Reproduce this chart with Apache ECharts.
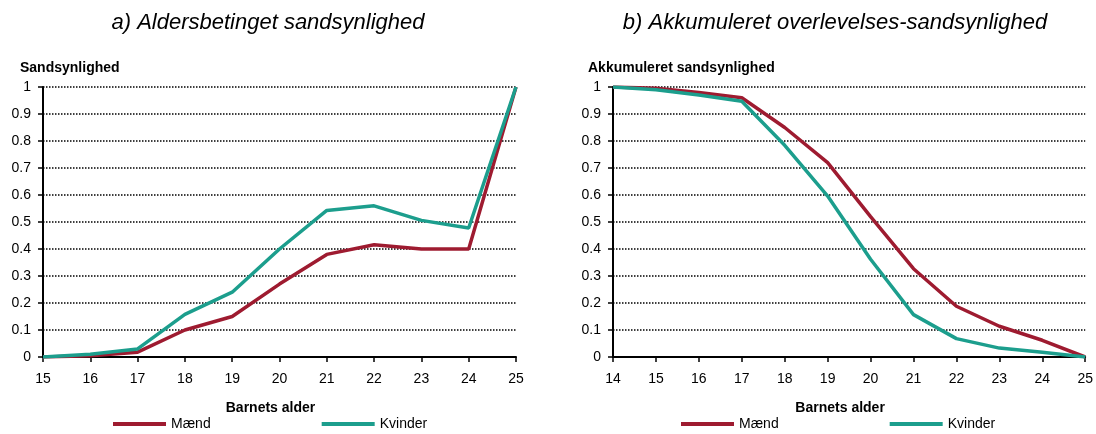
<!DOCTYPE html>
<html>
<head>
<meta charset="utf-8">
<script src="https://cdn.jsdelivr.net/npm/echarts@6/dist/echarts.min.js"></script>
<style>
  html, body { margin: 0; padding: 0; background: #fff; }
  #chart { width: 1096px; height: 434px; }
</style>
</head>
<body>
<div id="chart"></div>
<script>
// a) Aldersbetinget sandsynlighed
var alderA = ['15', '16', '17', '18', '19', '20', '21', '22', '23', '24', '25'];
var maendA = [0, 0.005, 0.018, 0.10, 0.15, 0.27, 0.38, 0.416, 0.40, 0.40, 1.0];
var kvinderA = [0, 0.01, 0.03, 0.158, 0.24, 0.40, 0.543, 0.56, 0.506, 0.478, 1.0];

// b) Akkumuleret overlevelses-sandsynlighed
var alderB = ['14', '15', '16', '17', '18', '19', '20', '21', '22', '23', '24', '25'];
var maendB = [1.0, 0.995, 0.98, 0.96, 0.85, 0.72, 0.52, 0.327, 0.188, 0.114, 0.062, 0];
var kvinderB = [1.0, 0.99, 0.97, 0.947, 0.784, 0.596, 0.362, 0.157, 0.068, 0.033, 0.018, 0];

var rod = '#9E1B30';
var groen = '#1C9E8D';
var font = 'Liberation Sans, Arial, sans-serif';

var myChart = echarts.init(document.getElementById('chart'));

function xAkse(idx, data) {
    return {
        type: 'category',
        gridIndex: idx,
        data: data,
        boundaryGap: false,
        name: 'Barnets alder',
        nameLocation: 'middle',
        nameGap: 44,
        nameTextStyle: { color: '#000', fontWeight: 'bold', fontSize: 14, fontFamily: font, padding: [0, 18, 0, 0] },
        axisLine: { lineStyle: { color: '#000', width: 2 } },
        axisTick: { show: true, length: 5, lineStyle: { color: '#000', width: 1.5 } },
        axisLabel: { color: '#000', fontSize: 14, fontFamily: font, margin: 15 },
        splitLine: { show: false }
    };
}

function yAkse(idx) {
    return {
        type: 'value',
        gridIndex: idx,
        min: 0,
        max: 1,
        interval: 0.1,
        axisLine: { show: true, lineStyle: { color: '#000', width: 2 } },
        axisTick: { show: true, length: 5, lineStyle: { color: '#000', width: 1.5 } },
        axisLabel: { color: '#000', fontSize: 14, fontFamily: font, margin: 12 },
        splitLine: { lineStyle: { color: '#000', type: [1.5, 1.5], width: 1.5 } }
    };
}

function linje(name, data, color, idx) {
    return {
        type: 'line',
        name: name,
        xAxisIndex: idx,
        yAxisIndex: idx,
        data: data,
        symbol: 'none',
        color: color,
        lineStyle: { color: color, width: 3.5 }
    };
}

var legendText = { color: '#000', fontSize: 14, fontFamily: font };

myChart.setOption({
    animation: false,
    title: [
        { text: 'a) Aldersbetinget sandsynlighed', left: 263, top: 7, textAlign: 'center',
          textStyle: { fontStyle: 'italic', fontWeight: 'normal', fontSize: 22, fontFamily: font, color: '#000' } },
        { text: 'b) Akkumuleret overlevelses-sandsynlighed', left: 830, top: 7, textAlign: 'center',
          textStyle: { fontStyle: 'italic', fontWeight: 'normal', fontSize: 22, fontFamily: font, color: '#000' } },
        { text: 'Sandsynlighed', left: 15, top: 56,
          textStyle: { fontWeight: 'bold', fontSize: 14, fontFamily: font, color: '#000' } },
        { text: 'Akkumuleret sandsynlighed', left: 583, top: 56,
          textStyle: { fontWeight: 'bold', fontSize: 14, fontFamily: font, color: '#000' } }
    ],
    grid: [
        { left: 43, right: 580, top: 87, bottom: 77 },
        { left: 613, right: 10, top: 87, bottom: 77 }
    ],
    legend: [
        { left: 108, top: 412, icon: 'rect', itemWidth: 53, itemHeight: 4, itemGap: 111,
          data: ['Mænd', 'Kvinder'], textStyle: legendText, selectedMode: false },
        { left: 676, top: 412, icon: 'rect', itemWidth: 53, itemHeight: 4, itemGap: 111,
          data: ['Mænd', 'Kvinder'], textStyle: legendText, selectedMode: false }
    ],
    xAxis: [xAkse(0, alderA), xAkse(1, alderB)],
    yAxis: [yAkse(0), yAkse(1)],
    series: [
        linje('Mænd', maendA, rod, 0),
        linje('Kvinder', kvinderA, groen, 0),
        linje('Mænd', maendB, rod, 1),
        linje('Kvinder', kvinderB, groen, 1)
    ]
});
</script>
</body>
</html>
